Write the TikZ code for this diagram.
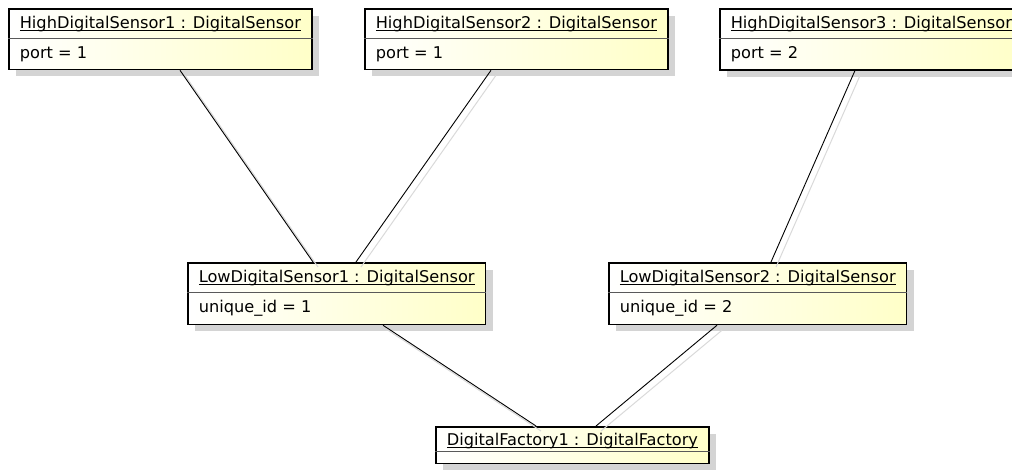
\documentclass[tikz,border=0pt]{standalone}
\usepackage{fontspec}
\newfontfamily\umlfont{DejaVu Sans}
\usetikzlibrary{shapes.multipart,shadows}
\definecolor{objyellow}{RGB}{255,255,200}
\definecolor{shadowgray}{RGB}{212,212,212}

\begin{document}
\begin{tikzpicture}[x=1pt, y=-1pt,
		object/.style={rectangle split, rectangle split parts=2,
			rectangle split draw splits=false, rectangle split part align=left,
			anchor=north west, draw, line width=1.6pt,
			left color=white, right color=objyellow,
			inner xsep=11pt, inner ysep=7pt,
			font=\umlfont\fontsize{16.2}{19}\selectfont,
			drop shadow={shadow xshift=7pt, shadow yshift=-7pt, fill=shadowgray, opacity=1}},
		split/.style={draw=black!65, line width=0.8pt},
		link/.style={draw=black, line width=0.9pt},
		linkshadow/.style={draw=black!15, line width=1pt, transform canvas={xshift=5pt, yshift=-5pt}}]
		
		\useasboundingbox (0,0) rectangle (1012,472);
		
		% object instances
		\node[object, minimum width=300pt] (high1) at (8,8)
			{\underbar{HighDigitalSensor1 : DigitalSensor} \nodepart{two} port = 1};
		\node[object, minimum width=300pt] (high2) at (364,8)
			{\underbar{HighDigitalSensor2 : DigitalSensor} \nodepart{two} port = 1};
		\node[object, minimum width=300pt] (high3) at (719,8)
			{\underbar{HighDigitalSensor3 : DigitalSensor} \nodepart{two} port = 2};
		\node[object, minimum width=294pt] (low1) at (187,262)
			{\underbar{LowDigitalSensor1 : DigitalSensor} \nodepart{two} unique\_id = 1};
		\node[object, minimum width=289pt] (low2) at (608,262)
			{\underbar{LowDigitalSensor2 : DigitalSensor} \nodepart{two} unique\_id = 2};
		% no attributes: second compartment left empty
		\node[object, minimum width=271pt, inner ysep=3pt,
			rectangle split empty part height=0pt] (factory) at (435,426)
			{\rule{0pt}{15pt}\underbar{DigitalFactory1 : DigitalFactory}};
		
		% compartment lines
		\foreach \obj in {high1,high2,high3,low1,low2,factory}
			\draw[split] (\obj.text split west) -- (\obj.text split east);
		
		% links
		\foreach \from/\fx/\to/\tx in {high1/172/low1/126, high2/127/low1/169,
			high3/136/low2/163, low1/196/factory/101, low2/109/factory/161} {
			\draw[linkshadow] ([xshift=\fx]\from.south west) -- ([xshift=\tx]\to.north west);
			\draw[link] ([xshift=\fx]\from.south west) -- ([xshift=\tx]\to.north west);
		}
		
\end{tikzpicture}
\end{document}
